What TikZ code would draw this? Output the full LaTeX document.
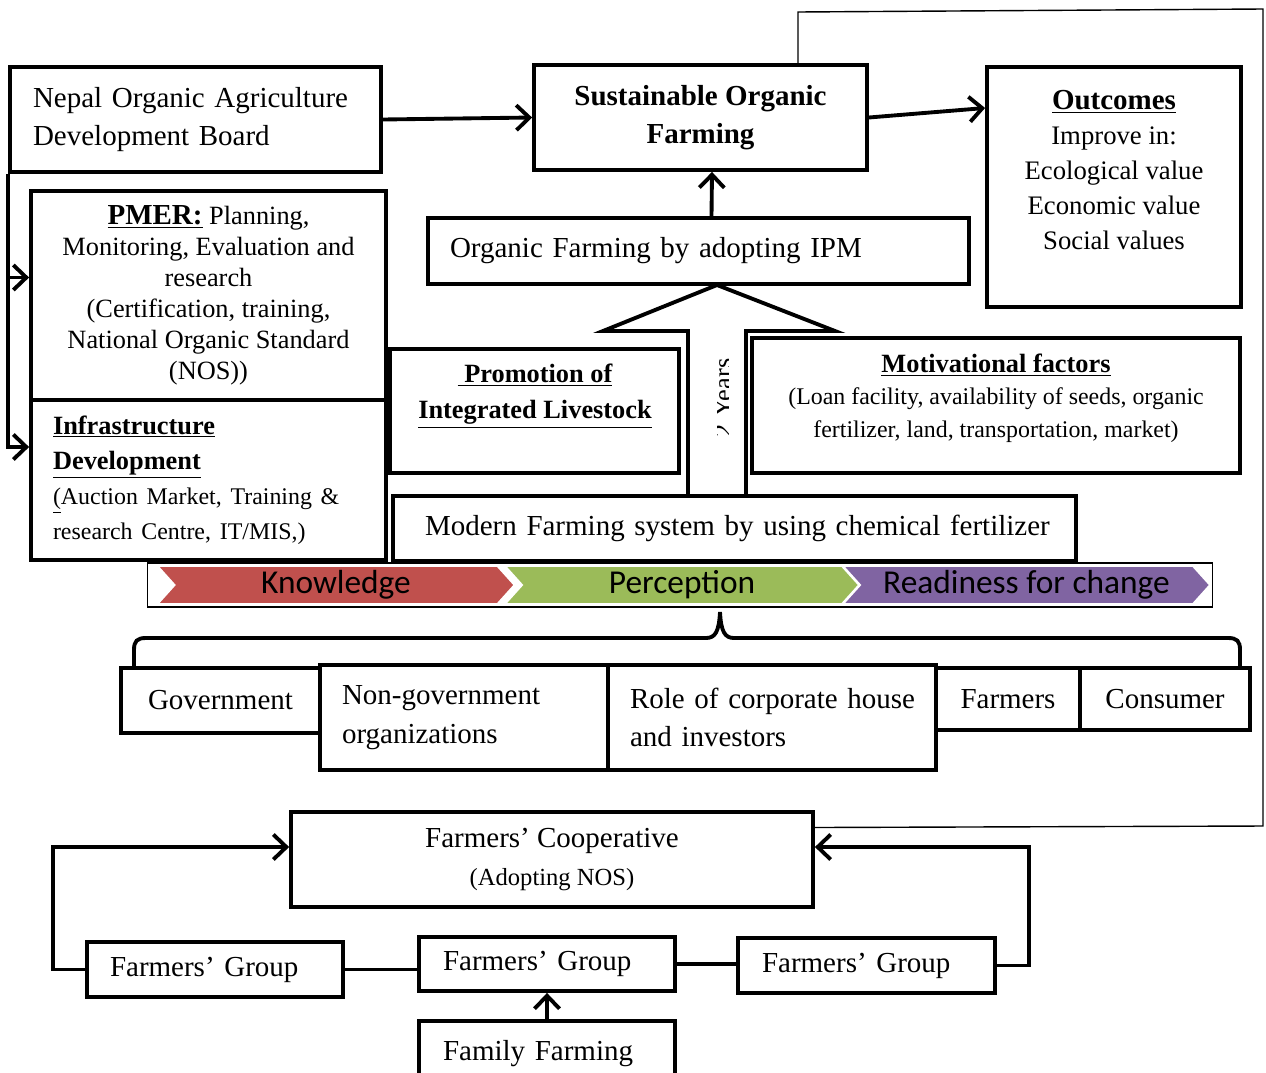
\documentclass[tikz,border=0pt]{standalone}
\usepackage{fontspec}
\setmainfont{Liberation Serif}
\newfontfamily\calibri{Carlito}
\usetikzlibrary{arrows.meta,calc,shapes.symbols}
\newcommand\fmain{\fontsize{16.5}{22}\selectfont}
\newcommand\fsub{\fontsize{15}{17.6}\selectfont}
\newcommand\fsmall{\fontsize{13.6}{18.5}\selectfont}
\definecolor{knowred}{HTML}{C0504D}
\definecolor{percgreen}{HTML}{9BBB59}
\definecolor{readpurple}{HTML}{8064A2}
\tikzset{
  box/.style={draw, line width=2.2pt, inner sep=0pt, align=center, font=\fmain},
  lbox/.style={box, align=left},
  txt/.style={inner sep=0pt, align=center},
  arr/.style={line width=2.2pt, -{Straight Barb[length=0.26cm,width=0.5cm]}},
  chev/.style={shape=signal, signal from=west, signal to=east, signal pointer angle=96,
    minimum height=0.76cm, inner sep=0pt, draw=white, line width=1pt,
    font=\calibri\fontsize{19}{19}\selectfont},
}

\begin{document}
\begin{tikzpicture}[x=0.02cm, y=-0.02cm]
\useasboundingbox (0,0) rectangle (1266,1072);
\clip (0,0) rectangle (1266,1072);

% top row
\node[lbox, text width=6.5cm, inner xsep=0.46cm, minimum height=2.1cm] (noadb) at (195.5,119.5) {\mbox{Nepal Organic Agriculture}\\\mbox{Development Board}};
\node[box, font=\fmain\bfseries, minimum width=6.66cm, minimum height=2.1cm] (sof) at (700.5,117.5) {Sustainable Organic\\Farming};
\node[box, minimum width=5.08cm, minimum height=4.8cm] (outc) at (1114,187) {};
\node[txt, font=\fontsize{15.2}{19.9}\selectfont] (outctxt) at (1114,170) {{\fontsize{16.5}{19.9}\selectfont\underline{\textbf{Outcomes}}}\\Improve in:\\Ecological value\\Economic value\\Social values};
\node[lbox, text width=9.94cm, inner xsep=0.44cm, minimum height=1.32cm] (ipm) at (698.5,251) {\mbox{Organic Farming by adopting IPM}};

% left column
\node[box, font=\fsub, minimum width=7.1cm, minimum height=4.18cm] (pmer) at (208.5,295.5) {\underline{\textbf{\fontsize{16.5}{17.6}\selectfont PMER:}} Planning,\\Monitoring, Evaluation and\\research\\(Certification, training,\\National Organic Standard\\(NOS))};
\node[lbox, font=\fontsize{15}{20}\selectfont, text width=6.22cm, inner xsep=0.44cm, minimum height=3.2cm] (infra) at (208.5,480) {\underline{\textbf{Infrastructure}}\\\underline{\textbf{Development}}\\\fontsize{13.6}{20}\selectfont\mbox{\underline{(}Auction Market, Training \&}\\\mbox{research Centre, IT/MIS,)}};

% middle row
\node[box, minimum width=5.78cm, minimum height=2.48cm] (promo) at (534.5,411) {};
\node[txt, font=\fontsize{15}{20.5}\selectfont\bfseries] (promotxt) at (535,396) {\underline{~Promotion of}\\\underline{Integrated Livestock}};
\node[box, minimum width=9.76cm, minimum height=2.7cm] (motiv) at (996,405.5) {};
\node[txt, font=\fontsize{13.6}{18.5}\selectfont] (motivtxt) at (996,398) {{\fontsize{15}{18.5}\selectfont\underline{\textbf{Motivational factors}}}\\(Loan facility, availability of seeds, organic\\fertilizer, land, transportation, market)};
\node[lbox, text width=12.38cm, inner xsep=0.64cm, minimum height=1.3cm] (modern) at (734.5,528.5) {\mbox{Modern Farming system by using chemical fertilizer}};

% hollow arrow
\draw[line width=2.2pt] (688,496) -- (688,331) -- (603,331) -- (717,285) -- (835,331) -- (746,331) -- (746,496);
\begin{scope}
\clip (717,350) rectangle (728,445);
\node[font=\fsub, rotate=90] (yrs) at (723,398) {2 Years};
\end{scope}

% knowledge bar
\node[draw, line width=0.6pt, minimum width=21.32cm, minimum height=0.88cm, inner sep=0pt] (bar) at (680,585) {};
\node[chev, fill=knowred, minimum width=7.14cm] (know) at (336,585) {Knowledge};
\node[chev, fill=percgreen, minimum width=7.08cm] (perc) at (682,585) {Perception};
\node[chev, fill=readpurple, minimum width=7.34cm] (ready) at (1026.5,585) {Readiness for change};

% brace
\draw[line width=2.2pt] (134,668) -- (134,650) .. controls (134,641) and (137,638) .. (146,638) -- (706,638)
  .. controls (715,638) and (719,632) .. (720,612) .. controls (721,632) and (725,638) .. (734,638) -- (1228,638)
  .. controls (1237,638) and (1240,641) .. (1240,650) -- (1240,668);

% stakeholders
\node[box, minimum width=3.98cm, minimum height=1.3cm] (gov) at (220.5,700.5) {Government};
\node[lbox, text width=4.88cm, inner xsep=0.44cm, minimum height=2.1cm] (ngo) at (464,717.5) {\mbox{Non-government}\\\mbox{organizations}};
\node[lbox, text width=5.68cm, inner xsep=0.44cm, minimum height=2.1cm] (role) at (772,717.5) {\mbox{Role of corporate house}\\\mbox{and investors}};
\node[box, minimum width=2.88cm, minimum height=1.24cm] (frm) at (1008,699) {Farmers};
\node[box, minimum width=3.4cm, minimum height=1.24cm] (cons) at (1165,699) {Consumer};

% cooperative
\node[box, minimum width=10.44cm, minimum height=1.9cm] (coop) at (552,859.5) {Farmers’ Cooperative\\{\fontsize{14}{18}\selectfont (Adopting NOS)}};
\node[lbox, text width=4.2cm, inner xsep=0.46cm, minimum height=1.1cm] (fg1) at (215,969.5) {\mbox{Farmers’ Group}};
\node[lbox, text width=4.16cm, inner xsep=0.48cm, minimum height=1.08cm] (fg2) at (547,964) {\mbox{Farmers’ Group}};
\node[lbox, text width=4.18cm, inner xsep=0.48cm, minimum height=1.1cm] (fg3) at (866.5,965.5) {\mbox{Farmers’ Group}};
\node[lbox, text width=4.16cm, inner xsep=0.48cm, minimum height=1.3cm] (fam) at (547,1053.5) {\mbox{Family Farming}};

% connectors
\draw[arr] (noadb.east) -- (sof.west);
\draw[arr] (sof.east) -- ($(outc.west)+(0,-79)$);
\draw[arr] ($(ipm.north)+(13,0)$) -- ($(sof.south)+(11.5,0)$);
\draw[arr] (noadb.south west) |- ($(pmer.west)+(0,-18)$);
\draw[arr] (noadb.south west) |- ($(infra.west)+(0,-33)$);
\draw[line width=0.8pt] ($(coop.east)+(0,-32)$) -- (1263,826) -- (1263,9) -- (798,12) -- ($(sof.north)+(97.5,0)$);
\draw[arr] (fg1.west) -- ++(-32,0) |- ($(coop.west)+(0,-12.5)$);
\draw[line width=2.2pt] (fg1.east) -- (fg1.east -| fg2.west);
\draw[line width=2.2pt] (fg2.east) -- (fg2.east -| fg3.west);
\draw[arr] (fg3.east) -- ++(32,0) |- ($(coop.east)+(0,-12.5)$);
\draw[arr] (fam.north) -- (fg2.south);
\end{tikzpicture}
\end{document}
